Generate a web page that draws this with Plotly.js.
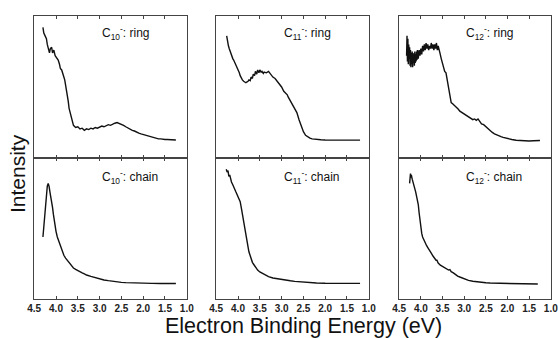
<!DOCTYPE html>
<html>
<head>
<meta charset="utf-8">
<script src="https://cdn.plot.ly/plotly-3.0.1.min.js"></script>
<style>html,body{margin:0;padding:0;background:#fff;}#chart{width:558px;height:338px;}</style>
</head>
<body>
<div id="chart"></div>
<script>
// ---- Data ----
const tickValues = [4.5, 4.0, 3.5, 3.0, 2.5, 2.0, 1.5, 1.0];
const tickLabels = ['4.5', '4.0', '3.5', '3.0', '2.5', '2.0', '1.5', '1.0'];
const panelLabels = ['C<sub>10</sub><sup>-</sup>: ring', 'C<sub>11</sub><sup>-</sup>: ring', 'C<sub>12</sub><sup>-</sup>: ring',
                     'C<sub>10</sub><sup>-</sup>: chain', 'C<sub>11</sub><sup>-</sup>: chain', 'C<sub>12</sub><sup>-</sup>: chain'];

const eRing10 = [4.30,4.28,4.25,4.22,4.20,4.18,4.15,4.13,4.10,4.08,4.05,4.02,4.00,3.97,3.95,3.92,3.90,3.87,3.85,3.82,3.80,3.77,3.75,3.72,3.70,3.67,3.65,3.62,3.60,3.55,3.50,3.45,3.40,3.35,3.30,3.25,3.20,3.15,3.10,3.05,3.00,2.95,2.90,2.85,2.80,2.75,2.70,2.65,2.60,2.55,2.50,2.45,2.40,2.35,2.30,2.25,2.20,2.15,2.10,2.05,2.00,1.95,1.90,1.85,1.80,1.75,1.70,1.65,1.60,1.55,1.50,1.45,1.40,1.35,1.30,1.25];
const iRing10 = [92,88,86,84,80,78,74,77,78,74,76,72,71,70,69,66,63,62,59,57,55,50,46,40,35,31,28,25,23,21.5,22,20.5,21,19.5,20.5,20,21,20.5,21.5,21,22,22.5,22,23,23.5,23,24,24.5,25,24.5,24,23,22,21,20.5,19.5,19,18,17.5,17,16.5,16,15.5,15,14.5,14,14,13.5,13.5,13,13,13,12.8,12.8,12.7,12.7];

const eRing11 = [4.26,4.25,4.22,4.20,4.17,4.15,4.12,4.10,4.07,4.05,4.02,4.00,3.97,3.95,3.92,3.90,3.87,3.85,3.82,3.80,3.77,3.75,3.72,3.70,3.67,3.65,3.62,3.60,3.57,3.55,3.52,3.50,3.47,3.45,3.42,3.40,3.35,3.30,3.25,3.20,3.15,3.10,3.05,3.00,2.95,2.92,2.90,2.87,2.85,2.80,2.75,2.70,2.65,2.60,2.55,2.50,2.45,2.40,2.35,2.30,2.20,2.10,2.00,1.80,1.60,1.40,1.20];
const iRing11 = [86,83,79,77,74,73,70,69,67,66,63,62,60,58,56,55,54,53.5,53,53.5,54,55,54.5,57,56,59,58,61,59,62,60,62,60.5,61,59.5,60.5,60,61,59,57,56,54,52,50,47,46,45,44.5,43,40,37.5,35,32,27,22,18.5,16,14.8,14,13.5,13,12.8,12.7,12.6,12.6,12.6,12.6];

const eRing12 = [4.33,4.32,4.31,4.30,4.29,4.28,4.27,4.26,4.25,4.24,4.23,4.22,4.21,4.20,4.19,4.18,4.17,4.16,4.15,4.14,4.13,4.12,4.11,4.10,4.09,4.08,4.06,4.04,4.02,4.00,3.98,3.96,3.94,3.92,3.90,3.88,3.86,3.84,3.82,3.80,3.78,3.76,3.74,3.72,3.70,3.68,3.66,3.64,3.62,3.60,3.58,3.56,3.53,3.50,3.47,3.45,3.42,3.40,3.38,3.36,3.34,3.32,3.30,3.26,3.22,3.18,3.14,3.10,3.05,3.00,2.95,2.90,2.85,2.80,2.76,2.72,2.68,2.64,2.60,2.55,2.50,2.45,2.40,2.35,2.30,2.25,2.20,2.15,2.10,2.05,2.00,1.90,1.80,1.70,1.60,1.50,1.40,1.30,1.25];
const iRing12 = [72,86,68,84,66,80,70,78,65,76,64,74,66,75,64,74,67,73,65,75,67,73,68,75,69,76,70,76,72,77,73,79,75,80,76,81,77,80,76,79,77,81,77,80,76,80,77,81,76,79,77,74,70,67,64,61,60,56,54,49,44,41,39,38,37,35.5,34.5,33,32,30.5,29.5,29,28,27,27.5,26.5,27.5,25.5,24,23.5,22,20.5,19,18,17,16.2,15.5,15,14.5,14,13.8,13,12.5,12.2,12,12,12.2,12.3,12.3];

const eChain10 = [4.30,4.28,4.26,4.24,4.22,4.20,4.18,4.16,4.14,4.12,4.10,4.08,4.06,4.04,4.02,4.00,3.97,3.94,3.90,3.86,3.82,3.78,3.74,3.70,3.65,3.60,3.55,3.50,3.45,3.40,3.35,3.30,3.20,3.10,3.00,2.90,2.80,2.70,2.60,2.50,2.40,2.20,2.00,1.80,1.60,1.40,1.25];
const iChain10 = [44,52,62,70,76,80,82,80,76,73,70,65,60,55,51,48,44,41.5,37,33.5,31,29,27.5,25.5,23.5,22,21,20,19,18.5,17.8,17,16,15,14.2,13.5,13,12.5,12,11.8,11.6,11.3,11.1,11.1,11,11.1,11];

const eChain11 = [4.27,4.25,4.23,4.21,4.19,4.17,4.15,4.12,4.10,4.07,4.05,4.02,4.00,3.97,3.95,3.92,3.90,3.87,3.85,3.82,3.80,3.77,3.75,3.72,3.70,3.67,3.65,3.62,3.60,3.55,3.50,3.45,3.40,3.35,3.30,3.20,3.10,3.00,2.90,2.80,2.70,2.60,2.50,2.40,2.30,2.20,2.00,1.80,1.60,1.40,1.20];
const iChain11 = [92,90,91,87,88,85,83,81,79,77.5,76,74,72.5,70.5,69,64,60,54,50,45,42,37,33.5,30,28,26,25,23.5,22.5,20.5,19.2,18.2,17.3,16.6,15.8,14.9,14.3,13.8,13.3,12.9,12.5,12.2,12,11.8,11.6,11.4,11.2,11.1,11.1,11.1,11.1];

const eChain12 = [4.26,4.255,4.25,4.24,4.23,4.22,4.20,4.18,4.16,4.14,4.12,4.10,4.08,4.06,4.04,4.02,4.00,3.98,3.96,3.93,3.90,3.87,3.84,3.80,3.76,3.72,3.68,3.65,3.63,3.60,3.55,3.50,3.45,3.40,3.36,3.33,3.30,3.25,3.20,3.15,3.10,3.00,2.90,2.80,2.70,2.60,2.50,2.40,2.20,2.00,1.80,1.60,1.40,1.30];
const iChain12 = [82,88,84,89,86,88,85,83,81,79,76,73,70,67,61,55,50,46.5,44,41.5,40,38,36.5,34,32.5,30.5,28.5,27.5,27.5,25.5,24,23,22,21,20.5,20.8,19.4,18.5,17.3,16.3,15.6,14.3,13.2,12.6,12.1,11.7,11.5,11.3,11.1,11,10.9,10.8,10.7,10.6];

const energies = [eRing10, eRing11, eRing12, eChain10, eChain11, eChain12];
const intensities = [iRing10, iRing11, iRing12, iChain10, iChain11, iChain12];

// ---- Layout geometry ----
const W = 558, H = 338;
const colPx = [[34, 187], [216, 369], [399, 551]];
const rowPx = [[16, 158], [158, 299]]; // top, bottom (pixels from top)
const xDom = colPx.map(c => [c[0] / W, c[1] / W]);
const yDom = rowPx.map(r => [1 - r[1] / H, 1 - r[0] / H]);

const lineColor = '#111';
const boxColor = '#444';
const fontFam = '"Liberation Sans", Arial, Helvetica, sans-serif';

const traces = [];
const layout = {
  width: W, height: H,
  margin: {l: 0, r: 0, t: 0, b: 0},
  paper_bgcolor: '#fff', plot_bgcolor: '#fff',
  showlegend: false,
  font: {family: fontFam, color: '#111'},
  annotations: []
};

for (let k = 0; k < 6; k++) {
  const row = k < 3 ? 0 : 1;
  const col = k % 3;
  const n = k + 1;
  const xs = n === 1 ? '' : String(n);
  traces.push({
    x: energies[k], y: intensities[k],
    xaxis: 'x' + xs, yaxis: 'y' + xs,
    type: 'scatter', mode: 'lines',
    line: {color: lineColor, width: 1.4},
    hoverinfo: 'skip'
  });
  layout['xaxis' + xs] = {
    domain: xDom[col],
    anchor: 'y' + xs,
    range: [4.505, 0.995],
    tickmode: 'array', tickvals: tickValues, ticktext: tickLabels,
    showticklabels: row === 1,
    ticklabeloverflow: 'allow',
    ticks: 'inside', ticklen: 3, tickwidth: 1, tickcolor: boxColor,
    showline: true, linecolor: boxColor, linewidth: 1, mirror: 'ticks',
    showgrid: false, zeroline: false, fixedrange: true,
    tickfont: {size: 10, color: '#222', family: fontFam, weight: 'bold'}
  };
  layout['yaxis' + xs] = {
    domain: yDom[row],
    anchor: 'x' + xs,
    range: [0, 100],
    showticklabels: false, ticks: '',
    showline: true, linecolor: boxColor, linewidth: 1, mirror: true,
    showgrid: false, zeroline: false, fixedrange: true
  };
  layout.annotations.push({
    xref: 'x' + xs + ' domain', yref: 'y' + xs + ' domain',
    x: 0.43, y: row === 0 ? 0.88 : 0.865,
    xanchor: 'left', yanchor: 'middle',
    text: panelLabels[k], showarrow: false,
    font: {size: 12, color: '#111', family: fontFam}
  });
}

layout.annotations.push({
  xref: 'paper', yref: 'paper', x: 17 / W, y: 1 - 174 / H,
  xanchor: 'center', yanchor: 'middle', textangle: -90,
  text: 'Intensity', showarrow: false,
  font: {size: 21, color: '#111', family: fontFam}
});
layout.annotations.push({
  xref: 'paper', yref: 'paper', x: 303 / W, y: 1 - 326 / H,
  xanchor: 'center', yanchor: 'middle',
  text: 'Electron Binding Energy (eV)', showarrow: false,
  font: {size: 21.5, color: '#111', family: fontFam}
});

Plotly.newPlot('chart', traces, layout, {staticPlot: true, displayModeBar: false});
</script>
</body>
</html>
